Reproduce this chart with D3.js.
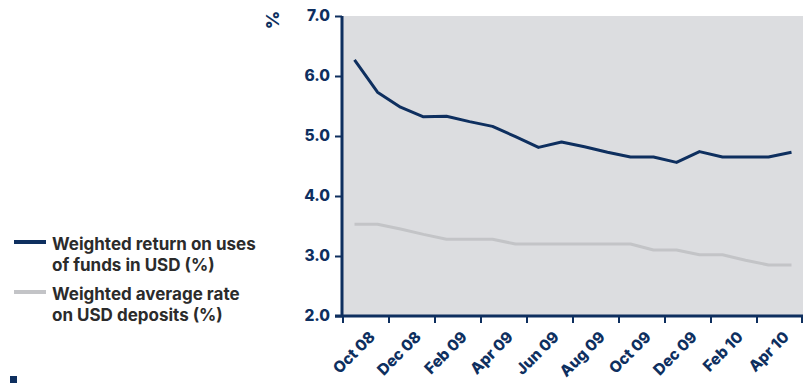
<!DOCTYPE html>
<html>
<head>
<meta charset="utf-8">
<script src="https://cdn.jsdelivr.net/npm/d3@7"></script>
<style>
  html, body { margin: 0; padding: 0; background: #ffffff; }
  svg { display: block; }
  text { font-family: Inter, "Open Sans", sans-serif; font-weight: 800; fill: #0e2f5f; }
</style>
</head>
<body>
<svg id="chart" width="803" height="385"></svg>
<script>
// Monthly categories, Oct 2008 – May 2010
const months = ["Oct 08","Nov 08","Dec 08","Jan 09","Feb 09","Mar 09","Apr 09","May 09","Jun 09","Jul 09",
                "Aug 09","Sep 09","Oct 09","Nov 09","Dec 09","Jan 10","Feb 10","Mar 10","Apr 10","May 10"];
// Weighted return on uses of funds in USD (%)
const returnOnUses = [6.27,5.73,5.48,5.32,5.33,5.24,5.16,4.99,4.81,4.90,
                      4.82,4.73,4.65,4.65,4.56,4.74,4.65,4.65,4.65,4.73];
// Weighted average rate on USD deposits (%)
const depositRate = [3.53,3.53,3.45,3.36,3.28,3.28,3.28,3.20,3.20,3.20,
                     3.20,3.20,3.20,3.10,3.10,3.02,3.02,2.93,2.85,2.85];
const yTicks = [2.0,3.0,4.0,5.0,6.0,7.0];
const xTickLabels = ["Oct 08","Dec 08","Feb 09","Apr 09","Jun 09","Aug 09","Oct 09","Dec 09","Feb 10","Apr 10"];
const seriesNames = [["Weighted return on uses","of funds in USD (%)"], ["Weighted average rate","on USD deposits (%)"]];

const NAVY = "#0e2f5f", GREY = "#c3c4c7", BG = "#dcdde0", INK = "#2b2b2b";
const svg = d3.select("#chart");
const plotL = 342, plotR = 803, plotT = 16, plotB = 316;

const x = d3.scaleBand().domain(months).range([plotL + 1, plotR]);
const y = d3.scaleLinear().domain([2, 7]).range([plotB, plotT]);

// plot background
svg.append("rect").attr("x", plotL).attr("y", plotT)
   .attr("width", plotR - plotL).attr("height", plotB - plotT).attr("fill", BG);

// lines
const line = d3.line().x((d, i) => x(months[i]) + x.bandwidth() / 2).y(d => y(d));
svg.append("path").datum(depositRate).attr("d", line)
   .attr("fill", "none").attr("stroke", GREY).attr("stroke-width", 3).attr("stroke-linejoin", "round");
svg.append("path").datum(returnOnUses).attr("d", line)
   .attr("fill", "none").attr("stroke", NAVY).attr("stroke-width", 3).attr("stroke-linejoin", "round");

// y axis
const yAxis = svg.append("g").attr("transform", `translate(${plotL},0)`)
  .call(d3.axisLeft(y).tickValues(yTicks).tickFormat(d3.format(".1f")).tickSize(7).tickPadding(5));
yAxis.select(".domain").attr("stroke", NAVY).attr("stroke-width", 3).attr("d", `M0,${plotT}V${plotB}`);
yAxis.selectAll(".tick line").attr("stroke", NAVY).attr("stroke-width", 2);
yAxis.selectAll(".tick text").attr("font-size", 15.5).attr("fill", NAVY)
  .style("font-family", "Inter, sans-serif").style("font-weight", "800");

// x axis: ticks every two months at band boundaries, plus the right end
const tickPos = xTickLabels.map(m => x(m)).concat([plotR - 1]);
const gx = svg.append("g").attr("transform", `translate(0,${plotB})`);
gx.append("line").attr("x1", plotL - 7).attr("x2", plotR).attr("y1", 0).attr("y2", 0)
  .attr("stroke", NAVY).attr("stroke-width", 3);
gx.selectAll("line.tick").data(tickPos).join("line").attr("class", "tick")
  .attr("x1", d => d).attr("x2", d => d).attr("y1", 0).attr("y2", 7)
  .attr("stroke", NAVY).attr("stroke-width", 2);
gx.selectAll("text.lbl").data(xTickLabels).join("text").attr("class", "lbl")
  .attr("transform", d => `translate(${x(d) + 33},${22}) rotate(-45)`)
  .attr("text-anchor", "end").attr("font-size", 15.5).text(d => d);

// % axis title
svg.append("text").attr("transform", "translate(279,20) rotate(-90)")
  .attr("text-anchor", "middle").attr("font-size", 18).text("%");

// legend
const legend = svg.append("g");
[NAVY, GREY].forEach((c, i) => {
  const yy = 242 + i * 50;
  legend.append("line").attr("x1", 14).attr("x2", 46).attr("y1", yy).attr("y2", yy)
    .attr("stroke", c).attr("stroke-width", 4);
  seriesNames[i].forEach((s, j) => {
    legend.append("text").attr("x", 52).attr("y", yy + 8 + j * 21)
      .attr("font-size", 17).style("font-weight", "700").style("fill", INK).text(s);
  });
});

// small marker square
svg.append("rect").attr("x", 10).attr("y", 376).attr("width", 7).attr("height", 7).attr("fill", NAVY);
</script>
</body>
</html>
